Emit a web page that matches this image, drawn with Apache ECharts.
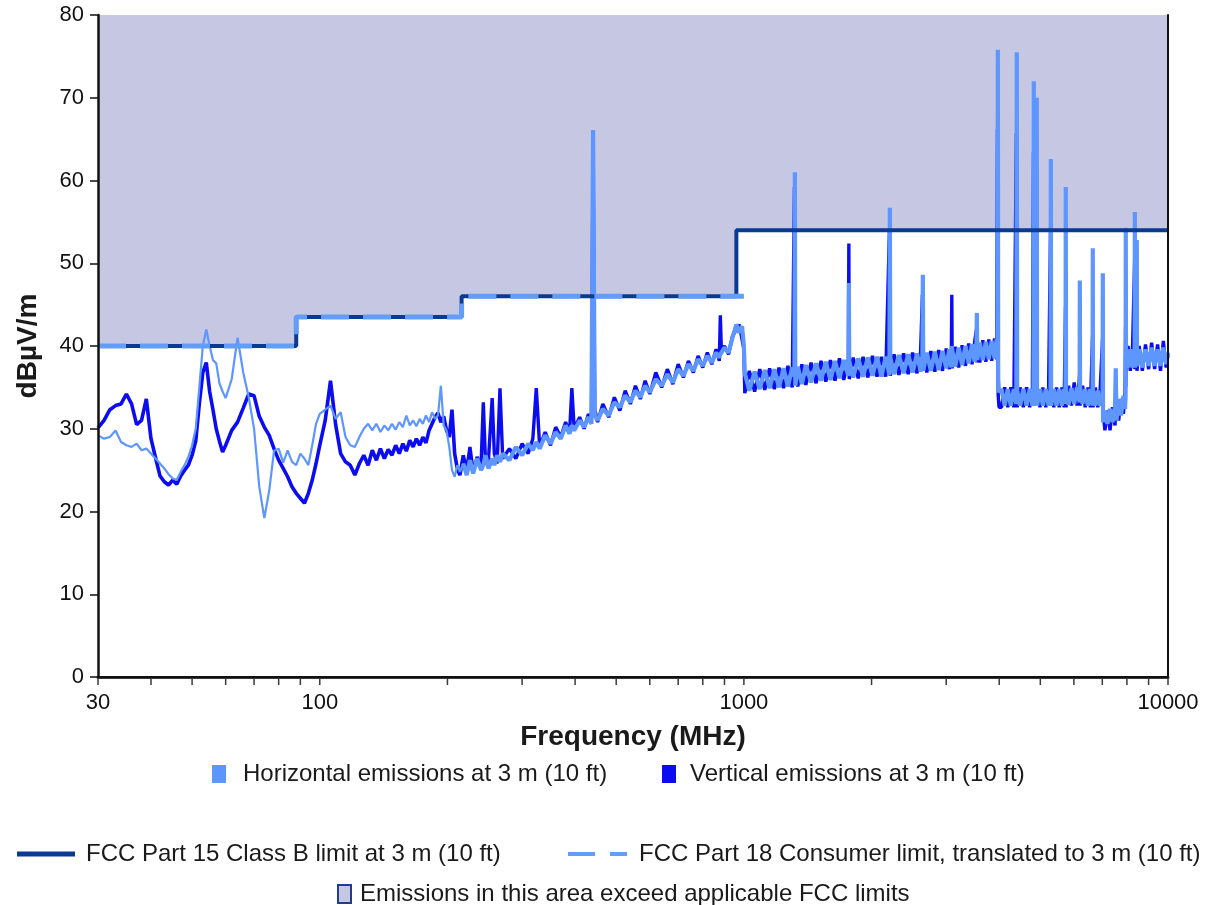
<!DOCTYPE html>
<html>
<head>
<meta charset="utf-8">
<title>Radiated emissions vs FCC limits</title>
<script src="https://cdn.jsdelivr.net/npm/echarts@6/dist/echarts.min.js"></script>
<style>
  html, body { margin: 0; padding: 0; background: #ffffff; }
  #chart { width: 1211px; height: 905px; }
</style>
</head>
<body>
<div id="chart"></div>
<script>
// ---- Measured emissions (dBµV/m), swept in five frequency bands (MHz) ----
const sweepA_MHz = [30, 31, 32, 33, 34, 35, 36, 37, 38, 39,
  40, 41, 42, 43, 44, 45, 46, 47, 48, 49,
  50, 51, 52, 53, 54, 55, 56, 57, 58, 59,
  60, 62, 64, 66, 68, 70, 72, 74, 76, 78,
  80, 82, 84, 86, 88, 90, 92, 94, 96, 98, 100];
const sweepA_horizontal = [29.2, 28.8, 29.0, 29.8, 28.4, 28.0, 27.8, 28.2, 27.4, 27.6,
  27.0, 26.4, 25.8, 25.2, 24.5, 24.0, 23.8, 24.8, 25.6, 26.6,
  28.0, 30.0, 35.0, 40.0, 42.0, 40.0, 38.3, 37.9, 35.5, 34.5,
  33.7, 36.0, 41.0, 36.8, 33.8, 30.0, 23.0, 19.2, 22.5, 27.3,
  27.6, 25.9, 27.4, 26.0, 25.6, 27.0, 26.4, 25.6, 28.0, 30.6, 31.8];
const sweepA_vertical = [30.1, 31.0, 32.3, 32.8, 33.0, 34.2, 33.0, 30.5, 31.0, 33.6,
  28.8, 26.5, 24.3, 23.6, 23.2, 23.8, 23.3, 24.3, 25.0, 25.6,
  26.8, 28.5, 33.0, 36.8, 38.0, 34.5, 32.3, 30.0, 28.5, 27.2,
  28.0, 29.8, 30.8, 32.5, 34.2, 34.0, 31.5, 30.2, 29.2, 27.6,
  26.2, 25.2, 24.2, 23.0, 22.2, 21.6, 21.0, 22.2, 23.8, 25.8, 28.0];

const sweepB_MHz = [103, 106, 109, 112, 115, 118, 121, 124, 127, 130,
  133, 136, 139, 142, 145, 148, 151, 154, 157, 160,
  163, 166, 169, 172, 175, 178, 181, 184, 187, 190,
  193, 196, 199, 202, 205, 208, 211, 214];
const sweepB_horizontal = [32.3, 32.8, 31.2, 32.0, 29.0, 28.0, 27.8, 29.0, 30.0, 30.6,
  29.8, 30.6, 29.6, 30.4, 29.8, 30.6, 29.9, 30.8, 30.2, 31.6,
  30.4, 31.0, 30.3, 31.2, 30.6, 31.6, 30.8, 32.0, 31.2, 31.6,
  35.2, 30.4, 29.8, 27.8, 25.0, 24.2, 25.6, 24.8];
const sweepB_vertical = [31.0, 35.8, 30.5, 27.0, 26.0, 25.6, 24.4, 25.8, 26.8, 25.6,
  27.4, 26.2, 27.6, 26.4, 27.5, 26.8, 28.0, 27.0, 28.2, 27.3,
  28.6, 27.8, 28.8, 28.0, 29.0, 28.3, 29.8, 30.6, 31.4, 31.9,
  30.8, 31.5, 29.8, 29.0, 32.3, 27.0, 25.2, 24.4];

const sweepC_MHz = [218, 222, 226, 230, 235, 240, 243, 246, 250, 255,
  258, 262, 266, 270, 280, 290, 300, 310, 318, 324,
  330, 340, 350, 360, 370, 380, 388, 393, 398, 410,
  420, 430, 437, 441, 445, 452, 465, 480, 495, 510,
  525, 540, 555, 570, 585, 600, 620, 640, 660, 680,
  700, 720, 740, 760, 780, 800, 820, 840, 860, 875,
  880, 885, 900, 920, 940, 960, 975, 990, 1000];
const sweepC_horizontal = [25.8, 24.4, 26.2, 24.6, 26.4, 25.0, 25.6, 26.8, 25.2, 26.4,
  25.6, 26.8, 26.0, 27.0, 26.2, 27.8, 26.8, 28.2, 27.4, 28.4,
  27.6, 29.2, 28.2, 29.6, 28.8, 30.4, 29.4, 30.4, 29.8, 31.0,
  30.2, 31.4, 30.6, 66.1, 31.6, 31.0, 32.4, 31.6, 33.2, 32.6,
  34.0, 33.2, 34.6, 33.8, 35.2, 34.4, 36.0, 35.2, 36.6, 35.6,
  37.2, 36.4, 37.8, 37.0, 38.4, 37.6, 38.8, 38.0, 39.2, 38.6,
  39.0, 38.8, 39.8, 39.2, 41.0, 42.6, 41.6, 42.4, 40.0];
const sweepC_vertical = [26.8, 25.0, 27.8, 24.8, 26.6, 25.4, 33.2, 25.8, 26.4, 33.7,
  27.0, 25.8, 34.9, 26.4, 27.6, 26.4, 28.2, 27.0, 28.8, 34.9,
  27.8, 29.6, 28.0, 30.2, 29.0, 30.8, 29.4, 34.9, 30.0, 31.4,
  30.0, 31.8, 30.6, 63.6, 32.4, 30.8, 33.0, 31.4, 33.8, 32.2,
  34.6, 33.0, 35.2, 33.6, 35.8, 34.2, 36.8, 35.0, 37.2, 35.4,
  37.8, 36.2, 38.2, 36.8, 38.8, 37.4, 39.2, 37.8, 39.6, 38.2,
  43.7, 39.4, 40.0, 39.0, 41.2, 42.0, 42.6, 40.8, 39.6];

const sweepD_MHz = [1005, 1030, 1060, 1090, 1120, 1150, 1180, 1210, 1240, 1270,
  1300, 1316, 1319, 1322, 1340, 1370, 1400, 1440, 1480, 1520,
  1560, 1600, 1640, 1680, 1720, 1764, 1768, 1772, 1810, 1860,
  1910, 1960, 2010, 2060, 2110, 2160, 2204, 2209, 2214, 2260,
  2320, 2380, 2440, 2500, 2560, 2610, 2636, 2642, 2648, 2700,
  2760, 2820, 2880, 2940, 3000, 3050, 3085, 3092, 3099, 3150,
  3210, 3270, 3330, 3390, 3450, 3500, 3535, 3543, 3551, 3600,
  3660, 3720, 3780, 3840, 3900, 3945, 3962, 3970, 3978, 3995];
const sweepD_horizontal = [36.7, 34.6, 36.9, 34.8, 37.1, 34.9, 37.2, 35.0, 37.3, 35.1,
  37.4, 36.3, 61.0, 35.2, 37.5, 35.4, 37.7, 35.6, 37.9, 35.8,
  38.1, 35.9, 38.2, 36.1, 38.3, 36.4, 47.6, 38.2, 36.2, 38.5,
  36.3, 38.6, 36.4, 38.7, 36.3, 38.7, 36.5, 56.7, 38.6, 36.6,
  38.9, 36.7, 39.0, 36.8, 39.1, 36.9, 38.8, 48.6, 37.0, 39.2,
  37.0, 39.3, 37.1, 39.4, 37.3, 39.6, 37.4, 40.0, 39.5, 37.5,
  39.8, 37.7, 40.0, 37.9, 40.2, 38.1, 40.3, 44.0, 38.3, 40.4,
  38.3, 40.5, 38.4, 40.6, 38.5, 40.8, 39.0, 75.8, 36.0, 34.4];
const sweepD_vertical = [34.3, 37.0, 34.5, 37.2, 34.7, 37.3, 34.8, 37.4, 34.9, 37.6,
  35.0, 59.2, 36.3, 37.6, 35.1, 37.8, 35.3, 38.0, 35.5, 38.2,
  35.7, 38.3, 35.8, 38.5, 35.9, 38.4, 52.4, 36.0, 38.6, 36.1,
  38.7, 36.2, 38.8, 36.3, 38.7, 36.3, 54.0, 37.6, 36.4, 39.0,
  36.5, 39.1, 36.6, 39.2, 36.7, 39.3, 46.2, 37.8, 39.2, 36.8,
  39.4, 36.9, 39.5, 37.0, 39.7, 37.2, 39.7, 46.2, 37.3, 39.9,
  37.4, 40.1, 37.6, 40.3, 37.8, 40.5, 42.0, 38.0, 40.6, 38.0,
  40.7, 38.1, 40.8, 38.2, 40.9, 38.4, 66.2, 40.4, 34.0, 32.6];

const sweepE_MHz = [4050, 4120, 4190, 4260, 4330, 4390, 4400, 4410, 4480, 4560,
  4640, 4720, 4790, 4818, 4826, 4834, 4898, 4905, 4912, 4990,
  5070, 5150, 5230, 5286, 5294, 5302, 5380, 5460, 5540, 5620,
  5690, 5733, 5741, 5749, 5830, 5920, 6010, 6100, 6188, 6196,
  6204, 6290, 6380, 6470, 6560, 6640, 6648, 6656, 6740, 6830,
  6920, 7012, 7020, 7028, 7100, 7200, 7300, 7400, 7500, 7530,
  7560, 7650, 7750, 7850, 7920, 7944, 7952, 7960, 8050, 8150,
  8250, 8345, 8353, 8361, 8435, 8443, 8451, 8550, 8700, 8850,
  9000, 9150, 9300, 9450, 9600, 9750, 9900, 10000];
const sweepE_horizontal = [34.8, 32.8, 34.8, 32.8, 34.8, 33.0, 75.5, 34.6, 32.8, 34.8,
  32.8, 34.8, 32.8, 34.6, 72.0, 32.8, 34.6, 70.0, 32.8, 34.8,
  32.8, 34.8, 32.8, 34.6, 62.6, 32.8, 34.8, 32.8, 34.8, 32.8,
  34.8, 33.0, 59.2, 34.6, 32.9, 34.9, 33.0, 35.0, 33.2, 47.9,
  35.0, 33.0, 34.8, 32.8, 34.8, 32.8, 51.8, 34.6, 32.8, 34.6,
  32.8, 34.2, 48.8, 30.8, 32.2, 30.6, 32.4, 30.8, 32.6, 37.3,
  31.0, 33.6, 31.6, 34.0, 32.4, 34.0, 54.3, 39.6, 37.4, 39.6,
  37.4, 39.4, 56.2, 37.4, 39.4, 52.8, 37.6, 39.6, 37.4, 39.6,
  37.6, 39.8, 37.6, 39.6, 37.6, 39.8, 37.8, 39.2];
const sweepE_vertical = [32.6, 35.0, 32.6, 35.0, 32.6, 65.7, 34.8, 32.6, 35.0, 32.6,
  35.0, 32.6, 35.0, 63.4, 32.8, 34.8, 60.7, 33.0, 35.0, 32.6,
  35.0, 32.6, 35.0, 54.4, 32.8, 35.0, 32.6, 35.0, 32.6, 35.0,
  32.6, 44.7, 34.8, 32.6, 35.2, 32.8, 35.6, 32.8, 36.4, 37.0,
  32.8, 35.2, 32.6, 35.0, 32.6, 41.3, 35.0, 32.6, 35.0, 32.6,
  34.8, 41.0, 32.4, 32.4, 29.8, 32.2, 29.8, 32.6, 30.4, 32.6,
  33.0, 31.0, 33.6, 31.8, 34.4, 42.3, 35.0, 37.0, 40.0, 37.0,
  40.0, 50.4, 37.2, 39.8, 37.2, 39.6, 37.0, 40.0, 37.0, 40.2,
  37.2, 40.4, 37.2, 40.2, 37.0, 40.6, 37.4, 39.0];

// ---- Regulatory limits at 3 m (stepped) ----
const part15Freq = [30, 88, 88, 216, 216, 960, 960, 10000];
const part15Limit = [40, 40, 43.5, 43.5, 46, 46, 54, 54];
const part18Freq = [30, 88, 88, 216, 216, 1000];
const part18Limit = [40, 40, 43.5, 43.5, 46, 46];

// ---- Axis ticks ----
const freqTicks = [30, 40, 50, 60, 70, 80, 90, 100, 200, 300, 400, 500, 600, 700, 800, 900,
  1000, 2000, 3000, 4000, 5000, 6000, 7000, 8000, 9000, 10000];
const freqTickLabels = [30, 100, 1000, 10000];

const NAME_H = 'Horizontal emissions at 3 m (10 ft)';
const NAME_V = 'Vertical emissions at 3 m (10 ft)';
const NAME_P15 = 'FCC Part 15 Class B limit at 3 m (10 ft)';
const NAME_P18 = 'FCC Part 18 Consumer limit, translated to 3 m (10 ft)';
const NAME_AREA = 'Emissions in this area exceed applicable FCC limits';

const FONT = "'Liberation Sans', Arial, sans-serif";
const TEXT = '#1a1a1a';

function zip(xs, ys) { return xs.map((x, i) => [x, ys[i]]); }

// below 216 MHz (bands A, B) the traces are thin; above, the sweeps are dense and noisy
const horizontalLow = [].concat(zip(sweepA_MHz, sweepA_horizontal), zip(sweepB_MHz, sweepB_horizontal));
const verticalLow = [].concat(zip(sweepA_MHz, sweepA_vertical), zip(sweepB_MHz, sweepB_vertical));
const horizontalHigh = [].concat(
  zip(sweepC_MHz, sweepC_horizontal), zip(sweepD_MHz, sweepD_horizontal),
  zip(sweepE_MHz, sweepE_horizontal));
const verticalHigh = [].concat(
  zip(sweepC_MHz, sweepC_vertical), zip(sweepD_MHz, sweepD_vertical),
  zip(sweepE_MHz, sweepE_vertical));
// join band B to band C so each trace stays continuous
horizontalLow.push(horizontalHigh[0]);
verticalLow.push(verticalHigh[0]);

const part15 = zip(part15Freq, part15Limit);
const part18 = zip(part18Freq, part18Limit);

const COLOR_H = '#5e96ff';
const COLOR_V = '#0c0cf0';
const COLOR_P15 = '#0a3a94';
const COLOR_P18 = '#629ef8';
const COLOR_AREA = '#c6c8e3';

function legendBox(left, top, item, w, h, gap) {
  return {
    left: left, top: top, padding: 0, itemWidth: w, itemHeight: h,
    selectedMode: false, data: [item],
    textStyle: { fontFamily: FONT, fontSize: 24, color: TEXT, padding: [0, 0, 0, gap] }
  };
}

function trace(name, data, color, width, z) {
  return {
    name: name, type: 'line', data: data, symbol: 'none', showSymbol: false,
    color: color, lineStyle: { color: color, width: width, join: 'bevel' }, z: z
  };
}

const chart = echarts.init(document.getElementById('chart'), null, { renderer: 'canvas' });

chart.setOption({
  animation: false,
  backgroundColor: '#ffffff',
  textStyle: { fontFamily: FONT },
  grid: { left: 98, right: 43, top: 15, bottom: 228 },
  legend: [
    legendBox(212, 762, { name: NAME_H, icon: 'rect' }, 14, 18, 12),
    legendBox(662, 762, { name: NAME_V, icon: 'rect' }, 14, 18, 9),
    legendBox(17, 842, { name: NAME_P15, icon: 'rect' }, 58, 5, 6),
    legendBox(568, 842, { name: NAME_P18, icon: 'path://M0,0H27V4H0Z M42,0H59V4H42Z' }, 59, 5, 7),
    legendBox(337, 882, {
      name: NAME_AREA, icon: 'rect',
      itemStyle: { color: COLOR_AREA, borderColor: '#1f3d8f', borderWidth: 2 }
    }, 13, 18, 4)
  ],
  xAxis: [{
    type: 'log', logBase: 10, min: 30, max: 10000,
    axisLine: { show: true, lineStyle: { color: '#3a3a3a', width: 3 } },
    axisTick: { show: false },
    axisLabel: { show: false },
    splitLine: { show: false },
    name: 'Frequency (MHz)', nameLocation: 'middle', nameGap: 46,
    nameTextStyle: { fontFamily: FONT, fontSize: 28, fontWeight: 'bold', color: TEXT },
    z: 10
  }, {
    type: 'log', logBase: 10, min: 30, max: 10000, position: 'top',
    axisLine: { show: true, lineStyle: { color: '#111', width: 2 } },
    axisTick: { show: false }, axisLabel: { show: false }, splitLine: { show: false },
    z: 10
  }],
  yAxis: [{
    type: 'value', min: 0, max: 80, interval: 10,
    axisLine: { show: true, lineStyle: { color: '#111', width: 2.5 } },
    axisTick: { show: true, length: 8, lineStyle: { color: '#111', width: 1.5 } },
    axisLabel: { fontFamily: FONT, fontSize: 22, color: '#111', margin: 14 },
    splitLine: { show: false },
    name: 'dBµV/m', nameLocation: 'middle', nameGap: 56, nameRotate: 90,
    nameTextStyle: { fontFamily: FONT, fontSize: 28, fontWeight: 'bold', color: TEXT },
    z: 10
  }, {
    type: 'value', min: 0, max: 80, position: 'right',
    axisLine: { show: true, lineStyle: { color: '#111', width: 2 } },
    axisTick: { show: false }, axisLabel: { show: false }, splitLine: { show: false },
    z: 10
  }],
  series: [
    {
      name: NAME_AREA, type: 'line', data: part15, symbol: 'none', silent: true,
      color: COLOR_AREA,
      lineStyle: { width: 0, opacity: 0 },
      areaStyle: { origin: 'end', color: COLOR_AREA, opacity: 1 },
      z: 1
    },
    trace(NAME_V, verticalLow, COLOR_V, 3.6, 2),
    trace(NAME_V, verticalHigh, COLOR_V, 3.4, 2),
    trace(NAME_H, horizontalLow, COLOR_H, 2.2, 3),
    trace(NAME_H, horizontalHigh, COLOR_H, 4.2, 3),
    {
      name: NAME_P15, type: 'line', data: part15, symbol: 'none',
      color: COLOR_P15, lineStyle: { color: COLOR_P15, width: 4 }, z: 4
    },
    {
      name: NAME_P18, type: 'line', data: part18, symbol: 'none',
      color: COLOR_P18, lineStyle: { color: COLOR_P18, width: 5, type: [28, 14] }, z: 5
    },
    {
      // frequency tick marks below the bottom axis
      type: 'custom', silent: true, clip: false, z: 11,
      data: freqTicks.map(v => [v, 0]),
      renderItem: function (params, api) {
        const p = api.coord([api.value(0), 0]);
        return {
          type: 'line',
          shape: { x1: p[0], y1: p[1] + 1, x2: p[0], y2: p[1] + 8 },
          style: { stroke: '#3a3a3a', lineWidth: 1.5 }
        };
      }
    },
    {
      // frequency tick labels
      type: 'custom', silent: true, clip: false, z: 11,
      data: freqTickLabels.map(v => [v, 0]),
      renderItem: function (params, api) {
        const v = api.value(0);
        const p = api.coord([v, 0]);
        return {
          type: 'text', x: p[0], y: p[1] + 15,
          style: {
            text: String(v), fill: '#111', align: 'center', verticalAlign: 'top',
            font: '22px ' + FONT
          }
        };
      }
    }
  ]
});
</script>
</body>
</html>
